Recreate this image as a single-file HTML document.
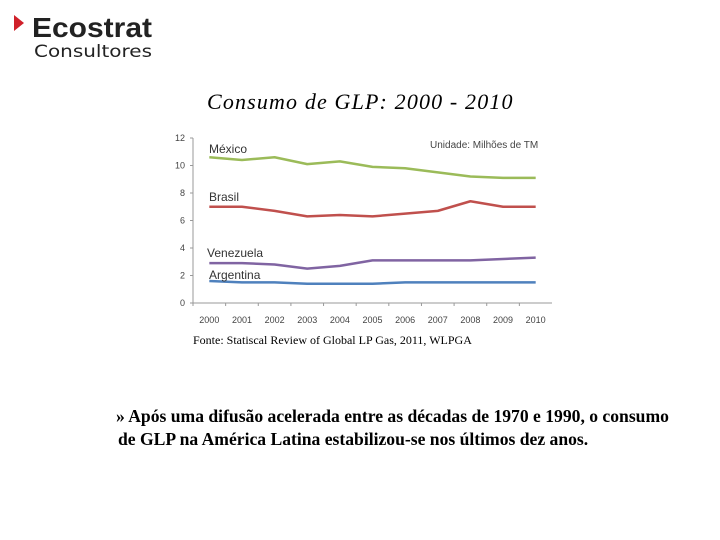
<!DOCTYPE html>
<html><head><meta charset="utf-8"><style>
body{margin:0;width:720px;height:540px;background:#fff;position:relative;overflow:hidden;font-family:"Liberation Serif",serif}
.abs{position:absolute}
</style></head><body>
<div class="abs" style="left:14px;top:12px">
<svg width="150" height="50"><polygon points="0,3 10,11 0,19" fill="#d0202a"/>
<text x="18" y="25" font-family="Liberation Sans" font-weight="bold" font-size="28" fill="#222" textLength="120" lengthAdjust="spacingAndGlyphs">Ecostrat</text>
<text x="20" y="45" font-family="DejaVu Sans" font-size="17" fill="#222" textLength="118" lengthAdjust="spacingAndGlyphs">Consultores</text></svg></div>
<div class="abs" style="left:207px;top:89px;font-size:22px;font-style:italic;letter-spacing:1.15px">Consumo de GLP: 2000 - 2010</div>
<svg class="abs" style="left:0;top:0" width="720" height="540">
<g id="axes" font-family="Liberation Sans" font-size="9" fill="#444"></g>
<g id="series"></g>
<text x="430" y="148" font-family="Liberation Sans" font-size="10" fill="#444">Unidade: Milhões de TM</text>
</svg>
<div class="abs" style="left:193px;top:333px;font-size:12px;letter-spacing:0px">Fonte: Statiscal Review of Global LP Gas, 2011, WLPGA</div>
<div class="abs" style="left:116px;top:405px;font-size:17.6px;font-weight:bold;line-height:23px;width:620px;white-space:nowrap">» Após uma difusão acelerada entre as décadas de 1970 e 1990, o consumo<br><span style="margin-left:2px">de GLP na América Latina estabilizou-se nos últimos dez anos.</span></div>
<script>
const years=["2000","2001","2002","2003","2004","2005","2006","2007","2008","2009","2010"];
const yTicks=[0,2,4,6,8,10,12];
const mexico=[10.6,10.4,10.6,10.1,10.3,9.9,9.8,9.5,9.2,9.1,9.1];
const brasil=[7,7,6.7,6.3,6.4,6.3,6.5,6.7,7.4,7,7];
const venezuela=[2.9,2.9,2.8,2.5,2.7,3.1,3.1,3.1,3.1,3.2,3.3];
const argentina=[1.6,1.5,1.5,1.4,1.4,1.4,1.5,1.5,1.5,1.5,1.5];
const seriesNames=["México","Brasil","Venezuela","Argentina"];
const NS="http://www.w3.org/2000/svg";
const x0=193,x1=552,y0=303,y1=138;
const xs=i=>x0+(x1-x0)*(i+0.5)/years.length;
const ys=v=>y0-(y0-y1)*v/12;
const ax=document.getElementById('axes'),sg=document.getElementById('series');
function mk(tag,attrs,parent){const e=document.createElementNS(NS,tag);for(const k in attrs)e.setAttribute(k,attrs[k]);parent.appendChild(e);return e;}
const yl=mk('line',{x1:x0,y1:y1,x2:x0,y2:y0,stroke:'#999'},ax);


const xl=mk('line',{x1:x0,y1:y0,x2:x1,y2:y0,stroke:'#999'},ax);


yTicks.forEach(t=>{const tx=mk('text',{x:x0-8,y:ys(t)+3,'text-anchor':'end'},ax);tx.textContent=t;


mk('line',{x1:x0-3,x2:x0,y1:ys(t),y2:ys(t),stroke:'#999'},ax);});
years.forEach((y,i)=>{const tx=mk('text',{x:xs(i),y:y0+20,'text-anchor':'middle'},ax);tx.textContent=y;


mk('line',{x1:x0+(x1-x0)*i/years.length,x2:x0+(x1-x0)*i/years.length,y1:y0,y2:y0+3,stroke:'#999'},ax);});
const data=[mexico,brasil,venezuela,argentina];
const cols=["#9bbb59","#c0504d","#8064a2","#4f81bd"];
const lab=[[209,153],[209,201],[207,257],[209,279]];
data.forEach((d,k)=>{const p=mk('polyline',{points:d.map((v,i)=>xs(i)+','+ys(v)).join(' '),fill:'none',stroke:cols[k],'stroke-width':2.5,'stroke-linejoin':'round'},sg);


const t=mk('text',{x:lab[k][0],y:lab[k][1],'font-family':'Liberation Sans','font-size':12,fill:'#333'},sg);t.textContent=seriesNames[k];

});
</script>
</body></html>
